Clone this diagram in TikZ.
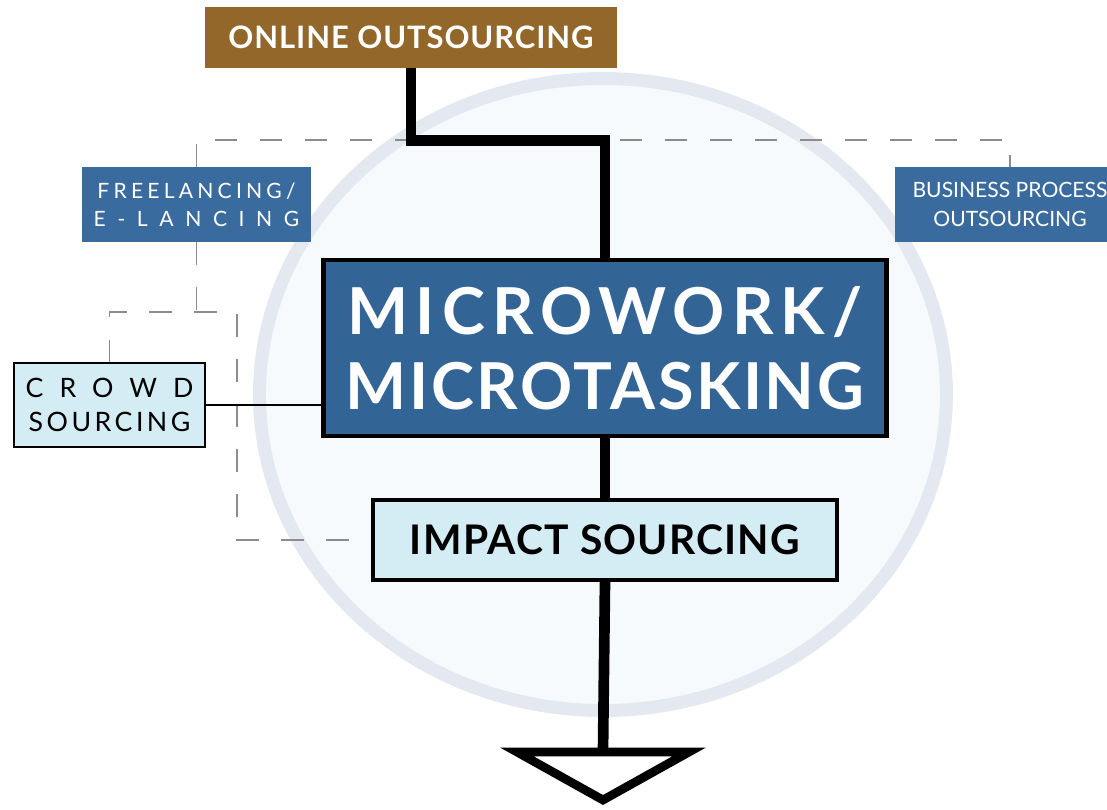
\documentclass[tikz,border=0pt]{standalone}
\usepackage{fontspec}
\setmainfont{Lato}
\definecolor{ochre}{HTML}{93662A}
\definecolor{deepblue}{HTML}{336496}
\definecolor{tagblue}{HTML}{3A6B9E}
\definecolor{paleblue}{HTML}{D4ECF3}
\definecolor{ringgray}{HTML}{E4E8F0}
\definecolor{innerfill}{HTML}{F7FAFC}
\definecolor{linegray}{HTML}{8C8C8C}

\begin{document}
\begin{tikzpicture}[x=0.025cm,y=-0.025cm,
  heavy/.style={line width=7.6pt},
  dashline/.style={draw=linegray,line width=1.3pt,dash pattern=on 16pt off 16pt},
  tagbox/.style={fill=tagblue,text=white,inner sep=0pt,align=center,
                 minimum width=5.73cm,minimum height=1.88cm,
                 font=\fontsize{15}{20}\selectfont},
  palebox/.style={draw=black,fill=paleblue,inner sep=0pt,align=center}]
  \useasboundingbox (0,0) rectangle (1107,810);
  \clip (0,0) rectangle (1107,810);

  % Background disc behind the central column.
  \draw[ringgray,fill=innerfill,line width=9.2pt]
    (603,394.5) ellipse [x radius=343.5,y radius=316];

  % Boxes.
  \node[fill=ochre,text=white,inner sep=0pt,minimum width=10.3cm,
        minimum height=1.53cm,font=\bfseries\fontsize{22}{26}\selectfont]
    (online) at (411,37.5) {\addfontfeatures{LetterSpace=3}ONLINE OUTSOURCING};
  \node[draw=black,line width=3.5pt,fill=deepblue,text=white,inner sep=0pt,
        align=center,minimum width=14.05cm,minimum height=4.4cm,
        font=\bfseries\fontsize{46}{53}\selectfont]
    (micro) at (605,348)
    {{\addfontfeatures{LetterSpace=11}MICROWORK/}\\{\addfontfeatures{LetterSpace=4}MICROTASKING}};
  \node[palebox,line width=2.8pt,minimum width=11.6cm,minimum height=2.0cm,
        font=\bfseries\fontsize{29}{34}\selectfont]
    (impact) at (605,540) {\addfontfeatures{LetterSpace=3}IMPACT SOURCING};
  \node[palebox,line width=1.4pt,minimum width=4.75cm,minimum height=2.08cm,
        font=\fontsize{19}{24}\selectfont]
    (crowd) at (109.5,405)
    {{\addfontfeatures{LetterSpace=60}CROWD}\\{\addfontfeatures{LetterSpace=13}SOURCING}};
  \node[tagbox] (freelance) at (196.5,204.5)
    {{\addfontfeatures{LetterSpace=20}FREELANCING/}\\{\addfontfeatures{LetterSpace=55}E-LANCING}};
  \node[tagbox] (bpo) at (1010,204.5) {BUSINESS PROCESS\\OUTSOURCING};

  % Dashed links between the related terms.
  \coordinate (topline) at (0,140);
  \draw[dashline] (freelance.north) |- (topline -| bpo.north) -- (bpo.north);
  \draw[dashline] (freelance.south) -- ++(0,70);
  \draw[dashline] (crowd.north) |- (237,312) |- (impact.west);
  \draw[line width=1.4pt] (crowd.east) -- (crowd.east -| micro.west);

  % Main column, ending in the open triangle.
  \coordinate (tip) at (603,752);
  \draw[heavy] (online.south) -- ++(0,72) -| (micro.north);
  \draw[heavy] (micro.south) -- (impact.north);
  \draw[heavy] (impact.south) -- (tip);
  \draw[line width=6.2pt,fill=white] (tip) -- ++(-86,0) -- (603,800) -- (689,752) -- cycle;
\end{tikzpicture}
\end{document}
